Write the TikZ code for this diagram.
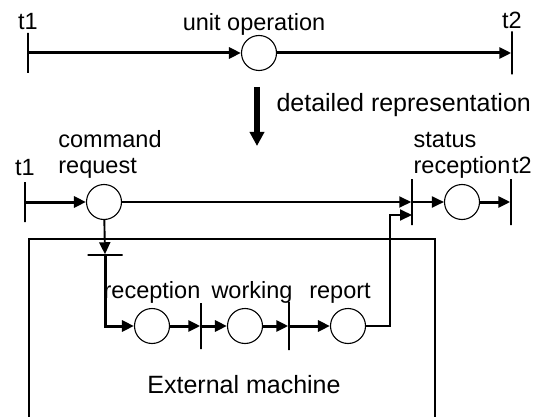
\documentclass[tikz,border=0pt]{standalone}
\usepackage{fontspec}
\setmainfont{Liberation Sans}
\usetikzlibrary{arrows.meta}
\begin{document}
\begin{tikzpicture}
        [x=1pt,y=-1pt,
         every node/.style={font=\fontsize{23.5}{26}\selectfont},
         big/.style={font=\fontsize{25}{28}\selectfont},
         place/.style={draw,circle,line width=1.1pt,minimum size=35pt,inner sep=0pt},
         vtick/.style={draw,line width=1.5pt,minimum width=0pt,minimum height=#1,inner sep=0pt},
         htick/.style={draw,line width=1.5pt,minimum height=0pt,minimum width=#1,inner sep=0pt},
         every label/.style={inner sep=1pt,font=\fontsize{23.5}{26}\selectfont},
         flow/.style={-{Triangle[length=12pt,width=11pt]},line width=3pt},
         thin flow/.style={-{Triangle[length=12pt,width=11pt]},line width=1.9pt}]
        \useasboundingbox (0,0) rectangle (535,417);
        \clip (0,0) rectangle (535,417);

        % unit operation
        \node[vtick=40pt,label={[label distance=1pt]above:t1}] (A1) at (28,53) {};
        \node[place,label={[xshift=-5pt,label distance=-2pt]above:unit operation}] (U) at (259,53) {};
        \node[vtick=43pt,label={[label distance=1pt]above:t2}] (A2) at (512,53) {};
        \draw[flow] (A1) -- (U);
        \draw[flow] (U) -- (A2);

        % detailed representation
        \coordinate (D1) at (257,87);
        \coordinate (D2) at (257,146);
        \draw[-{Triangle[length=14pt,width=14pt]},line width=5.5pt] (D1) -- (D2);
        \node[big,anchor=west] (DR) at (273,105) {detailed representation};

        % external machine
        \node[draw,line width=1.5pt,anchor=north west,minimum width=406pt,minimum height=220pt,inner sep=0pt] (E) at (28,238) {};
        \node[big] (EL) at (244,385) {External machine};

        \node[vtick=40pt,label={[label distance=4pt]above:t1}] (B1) at (25,202) {};
        \node[place,label={[xshift=6pt,label distance=4pt,align=left]above:command\\request}] (C) at (104,202) {};
        \node[vtick=46pt] (S1) at (412,202) {};
        \node[place,label={[label distance=4pt,align=left]above:status\\reception}] (S) at (462,202) {};
        \node[vtick=46pt,label={[anchor=south west,label distance=3pt]90:t2}] (B2) at (511,202) {};
        \node[htick=35pt] (H) at (105,255) {};

        \node[place,label={[label distance=3pt]above:reception}] (R) at (152,326) {};
        \node[vtick=46pt] (R1) at (201,326) {};
        \node[place,label={[xshift=7pt,label distance=3pt]above:working}] (W) at (245,326) {};
        \node[vtick=48pt] (R2) at (289,326) {};
        \node[place,label={[xshift=-8pt,label distance=3pt]above:report}] (P) at (348,326) {};
        \coordinate (F) at (390,215);

        \draw[flow] (B1) -- (C);
        \draw[thin flow] (C) -- (S1);
        \draw[thin flow] (S1) -- (S);
        \draw[flow] (S) -- (B2);
        \draw[thin flow] (C) -- (H);
        \draw[flow] (H) |- (R);
        \draw[flow] (R) -- (R1);
        \draw[flow] (R1) -- (W);
        \draw[flow] (W) -- (R2);
        \draw[flow] (R2) -- (P);
        \draw[thin flow] (P) -| (F) -- (S1 |- F);
\end{tikzpicture}
\end{document}
